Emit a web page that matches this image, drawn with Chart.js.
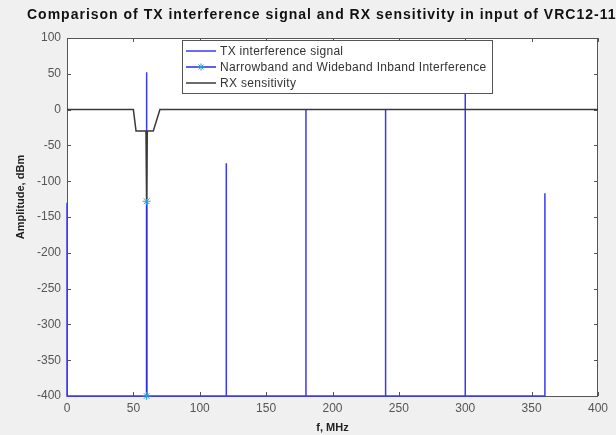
<!DOCTYPE html>
<html>
<head>
<meta charset="utf-8">
<script src="https://cdn.jsdelivr.net/npm/chart.js@4"></script>
<style>
  html, body { margin: 0; padding: 0; background: #f0f0f0; }
  #wrap { width: 616px; height: 435px; }
</style>
</head>
<body>
<div id="wrap"><canvas id="rxChart" width="616" height="435"></canvas></div>
<script>
// ---- data ----
const chartTitle = 'Comparison of TX interference signal and RX sensitivity in input of VRC12-110';
const xTitle = 'f, MHz';
const yTitle = 'Amplitude, dBm';
const seriesNames = ['TX interference signal', 'Narrowband and Wideband Inband Interference', 'RX sensitivity'];

// TX spectrum, drawn as stems from the -400 floor
const txFreq  = [0, 0, 60, 60, 60, 120, 120, 120, 180, 180, 180, 240, 240, 240, 300, 300, 300, 360, 360, 360];
const txLevel = [-130, -400, -400, 52, -400, -400, -75, -400, -400, 0, -400, -400, 0, -400, -400, 25, -400, -400, -117, -400];

// narrowband / wideband inband interference
const nbFreq  = [60, 60];
const nbLevel = [-128, -400];

// RX sensitivity mask
const rxFreq  = [0, 50, 52, 59.5, 60, 60.5, 65, 70, 400];
const rxLevel = [0, 0, -30, -30, -125, -30, -30, 0, 0];

// axis ticks
const xTicks = [0, 50, 100, 150, 200, 250, 300, 350, 400];
const yTicks = [100, 50, 0, -50, -100, -150, -200, -250, -300, -350, -400];

const toPoints = (xs, ys) => xs.map((x, i) => ({ x: x, y: ys[i] }));

const FONT = "'Liberation Sans', Arial, sans-serif";

// white plot area + box + inward ticks (MATLAB look), under the lines
const frameBox = {
    id: 'frameBox',
    beforeDatasetsDraw(chart) {
        const { ctx, chartArea: a, scales } = chart;
        ctx.save();
        ctx.fillStyle = '#ffffff';
        ctx.fillRect(a.left, a.top, a.right - a.left, a.bottom - a.top);
        ctx.strokeStyle = '#555';
        ctx.lineWidth = 1;
        ctx.strokeRect(a.left + 0.5, a.top + 0.5, a.right - a.left - 1, a.bottom - a.top);
        ctx.beginPath();
        xTicks.forEach(v => {
            const px = Math.round(scales.x.getPixelForValue(v)) + 0.5;
            ctx.moveTo(px, a.bottom); ctx.lineTo(px, a.bottom - 4);
            ctx.moveTo(px, a.top); ctx.lineTo(px, a.top + 4);
        });
        yTicks.forEach(v => {
            const py = Math.round(scales.y.getPixelForValue(v)) + 0.5;
            ctx.moveTo(a.left, py); ctx.lineTo(a.left + 4, py);
            ctx.moveTo(a.right, py); ctx.lineTo(a.right - 4, py);
        });
        ctx.stroke();
        ctx.restore();
    }
};

// boxed legend in the upper part of the axes, like MATLAB's 'north' legend
const boxLegend = {
    id: 'boxLegend',
    afterDraw(chart) {
        const { ctx, chartArea: a } = chart;
        const left = a.left + 115, top = a.top + 2, w = 310, rowH = 16;
        ctx.save();
        ctx.fillStyle = '#ffffff';
        ctx.strokeStyle = '#555';
        ctx.lineWidth = 1;
        ctx.fillRect(left, top, w, rowH * 3 + 5);
        ctx.strokeRect(left + 0.5, top + 0.5, w, rowH * 3 + 5);
        ctx.font = '12px ' + FONT;
        ctx.letterSpacing = '0.3px';
        ctx.textBaseline = 'middle';
        chart.data.datasets.forEach((ds, i) => {
            const y = top + 11 + i * rowH;
            ctx.strokeStyle = ds.borderColor;
            ctx.lineWidth = ds.borderWidth;
            ctx.beginPath();
            ctx.moveTo(left + 4, y); ctx.lineTo(left + 34, y);
            ctx.stroke();
            if (ds.pointRadius > 0) {
                ctx.strokeStyle = ds.pointBorderColor;
                ctx.lineWidth = 1;
                const cx = left + 19, r = 3.5;
                ctx.beginPath();
                ctx.moveTo(cx - r, y); ctx.lineTo(cx + r, y);
                ctx.moveTo(cx, y - r); ctx.lineTo(cx, y + r);
                ctx.moveTo(cx - r * 0.7, y - r * 0.7); ctx.lineTo(cx + r * 0.7, y + r * 0.7);
                ctx.moveTo(cx - r * 0.7, y + r * 0.7); ctx.lineTo(cx + r * 0.7, y - r * 0.7);
                ctx.stroke();
            }
            ctx.fillStyle = '#333';
            ctx.fillText(ds.label, left + 38, y + 0.5);
        });
        ctx.restore();
    }
};

// title is wider than the figure and gets clipped on the right; y label sits a bit above centre
const figureText = {
    id: 'figureText',
    afterDraw(chart) {
        const ctx = chart.ctx;
        ctx.save();
        ctx.font = 'bold 14px ' + FONT;
        ctx.letterSpacing = '1px';
        ctx.fillStyle = '#111';
        ctx.textBaseline = 'middle';
        ctx.fillText(chartTitle, 27, 15);
        ctx.letterSpacing = '0px';
        ctx.font = 'bold 11px ' + FONT;
        ctx.fillStyle = '#222';
        ctx.textAlign = 'center';
        ctx.translate(21, 197);
        ctx.rotate(-Math.PI / 2);
        ctx.fillText(yTitle, 0, 0);
        ctx.restore();
    }
};

new Chart(document.getElementById('rxChart'), {
    type: 'line',
    data: {
        datasets: [
            {
                label: seriesNames[0],
                data: toPoints(txFreq, txLevel),
                borderColor: '#3a3af2',
                borderWidth: 1.5,
                pointRadius: 0,
                tension: 0,
                clip: false,
                order: 3
            },
            {
                label: seriesNames[1],
                data: toPoints(nbFreq, nbLevel),
                borderColor: '#2b2bd8',
                borderWidth: 1.5,
                pointStyle: 'star',
                pointRadius: 4,
                pointBorderColor: '#2a9fd6',
                pointBorderWidth: 1,
                tension: 0,
                clip: false,
                order: 2
            },
            {
                label: seriesNames[2],
                data: toPoints(rxFreq, rxLevel),
                borderColor: '#3a3a3a',
                borderWidth: 1.5,
                pointRadius: 0,
                tension: 0,
                clip: false,
                order: 1
            }
        ]
    },
    options: {
        responsive: false,
        animation: false,
        layout: { padding: { top: 38, right: 18, left: 0, bottom: 0 } },
        plugins: {
            legend: { display: false },
            title: { display: false },
            tooltip: { enabled: false }
        },
        scales: {
            x: {
                type: 'linear',
                min: 0,
                max: 400,
                afterBuildTicks: s => { s.ticks = xTicks.map(v => ({ value: v })); },
                afterFit: s => { s.height = 39; },
                grid: { display: false, drawTicks: false },
                border: { display: false },
                ticks: { color: '#555', font: { family: FONT, size: 12 }, padding: 5, maxRotation: 0 },
                title: { display: true, text: xTitle, color: '#222', font: { family: FONT, size: 11, weight: 'bold' }, padding: 0 }
            },
            y: {
                min: -400,
                max: 100,
                afterBuildTicks: s => { s.ticks = yTicks.map(v => ({ value: v })); },
                afterFit: s => { s.width = 67; },
                grid: { display: false, drawTicks: false },
                border: { display: false },
                ticks: { color: '#555', font: { family: FONT, size: 12 }, padding: 6 },
                title: { display: false }
            }
        }
    },
    plugins: [frameBox, boxLegend, figureText]
});
</script>
</body>
</html>
